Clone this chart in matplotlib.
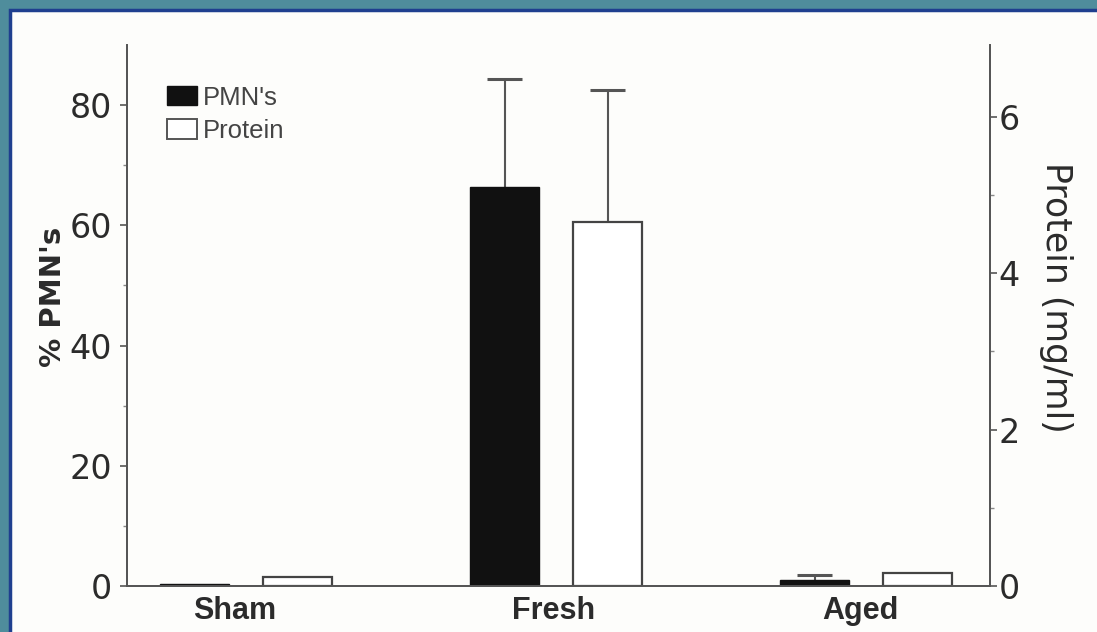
"""Grouped bars: % PMN's (left axis) and protein (right axis) by group."""

import matplotlib.pyplot as plt
import matplotlib.transforms as mtransforms
import numpy as np
from matplotlib.patches import Patch, Rectangle

categories = ["Sham", "Fresh", "Aged"]
pmn_pct = [0.25, 66.3, 1.0]
pmn_err = [0.0, 18.0, 0.8]
protein_mg = [0.12, 4.66, 0.16]
protein_err = [0.0, 1.69, 0.0]

ink = "#2b2b2b"
plt.rcParams["font.family"] = ["DejaVu Sans"]

fig = plt.figure(figsize=(10.97, 6.32), dpi=100, facecolor="#4f8d9c")
# white slide panel with thin navy border
fig.patches.append(Rectangle((10 / 1097, -0.01), 1.02, 1 - 10 / 632 + 0.01,
                             transform=fig.transFigure, facecolor="#fdfdfb",
                             edgecolor="#1f3f8f", linewidth=2.5, zorder=-5))

ax = fig.add_axes([127 / 1097, 1 - 586 / 632, (990 - 127) / 1097, (586 - 45) / 632])
ax2 = ax.twinx()
ax.patch.set_alpha(0)
ax2.patch.set_alpha(0)

x = np.arange(len(categories))
w = 0.223
off = 0.166
cap = 0.057


def upper_errors(a, xs, ys, errs):
    """Upper-only error bars: stem from bar top plus a cap, no lower cap."""
    xs, ys, errs = np.asarray(xs), np.asarray(ys), np.asarray(errs)
    keep = errs > 0
    tops = ys + errs
    a.vlines(xs[keep], ys[keep], tops[keep], color="#555555", lw=1.5, zorder=1)
    a.hlines(tops[keep], xs[keep] - cap, xs[keep] + cap, color="#555555", lw=2.2, zorder=1)


ax.bar(x - off, pmn_pct, w, color="#111111", edgecolor="#111111", linewidth=1.0, zorder=2)
upper_errors(ax, x - off, pmn_pct, pmn_err)
ax2.bar(x + off, protein_mg, w, color="white", edgecolor="#444444", linewidth=1.6, zorder=2)
upper_errors(ax2, x + off, protein_mg, protein_err)

ax.set_xlim(-0.385, 2.40)
ax.set_ylim(0, 90)
ax2.set_ylim(0, 6.92)

ax.set_yticks([0, 20, 40, 60, 80])
ax.set_yticks([10, 30, 50, 70], minor=True)
ax2.set_yticks([0, 2, 4, 6])
ax2.set_yticks([1, 3, 5], minor=True)
ax.set_xticks(x)
ax.set_xticklabels(categories, fontsize=22, fontweight="bold", color=ink,
                   family=["Liberation Sans", "DejaVu Sans"])
ax.tick_params(axis="x", length=0, pad=7)
# the labels sit a little left of their groups in the original
for lbl, dx in zip(ax.get_xticklabels(), [-12, -3, -6]):
    shift = mtransforms.ScaledTranslation(dx / 100, 0, fig.dpi_scale_trans)
    lbl.set_transform(lbl.get_transform() + shift)

for a in (ax, ax2):
    a.spines["top"].set_visible(False)
    for s in a.spines.values():
        s.set_color("#555555")
        s.set_linewidth(1.3)
    a.tick_params(axis="y", which="major", labelsize=24, length=5, width=1.2,
                  color="#555555", labelcolor=ink, pad=6)
    a.tick_params(axis="y", which="minor", length=3, width=1.0, color="#888888")
ax2.tick_params(axis="y", which="major", pad=1)

ax.set_ylabel("% PMN's", fontsize=21, fontweight="bold", color=ink)
ax.yaxis.set_label_coords(-0.07, 0.534)
ax2.set_ylabel("Protein (mg/ml)", fontsize=25, color=ink, rotation=270, va="center")
ax2.yaxis.set_label_coords(1.076, 0.534)

handles = [Patch(facecolor="#111111", edgecolor="#111111", label="PMN's"),
           Patch(facecolor="white", edgecolor="#555555", linewidth=1.4, label="Protein")]
ax.legend(handles=handles, loc="upper left", bbox_to_anchor=(0.046, 0.925), frameon=False,
          prop={"family": ["Liberation Sans", "DejaVu Sans"], "size": 18.5},
          handlelength=1.17, handleheight=0.78, handletextpad=0.25,
          labelspacing=0.36, borderaxespad=0, borderpad=0, labelcolor="#444444")

fig.savefig("out.png", dpi=100, facecolor=fig.get_facecolor())
